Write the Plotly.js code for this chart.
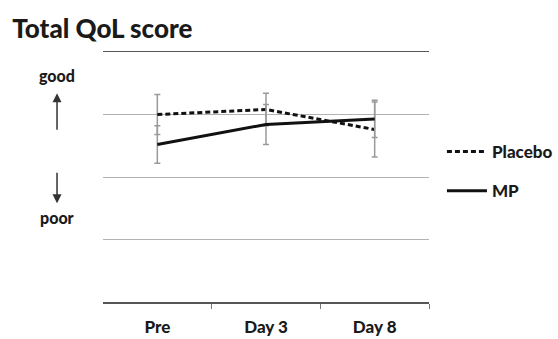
<!DOCTYPE html>
<html>
<head>
<meta charset="utf-8">
<script src="https://cdn.plot.ly/plotly-3.0.1.min.js"></script>
<style>html,body{margin:0;padding:0;background:#fff;}#chart{width:558px;height:339px;}</style>
</head>
<body>
<div id="chart"></div>
<script>
const categories = ["Pre", "Day 3", "Day 8"];
const placebo = [3.00, 3.08, 2.76];
const placeboErr = [0.32, 0.26, 0.44];
const mp = [2.52, 2.84, 2.93];
const mpErr = [0.30, 0.32, 0.30];
const gridTicks = [1, 2, 3];

const xIdx = categories.map((c, i) => i);
const FONT = "Lato, 'Open Sans', sans-serif";

const errStyle = {type: 'data', visible: true, color: '#9a9a9a', thickness: 1.5, width: 3};

const traces = [
  {
    x: xIdx, y: placebo, name: 'Placebo', type: 'scatter', mode: 'lines',
    line: {color: '#111', width: 3, dash: '5px,3px'},
    error_y: Object.assign({array: placeboErr}, errStyle),
    legendgroup: 'a'
  },
  {
    x: xIdx, y: mp, name: 'MP', type: 'scatter', mode: 'lines',
    line: {color: '#111', width: 3},
    error_y: Object.assign({array: mpErr}, errStyle),
    legendgroup: 'b'
  }
];

const layout = {
  width: 558, height: 339,
  margin: {l: 103, r: 129, t: 52, b: 37, pad: 0, autoexpand: false},
  paper_bgcolor: '#fff', plot_bgcolor: '#fff',
  showlegend: true,
  title: {text: 'Total QoL score', x: 0.022, xanchor: 'left', y: 0.915, yanchor: 'middle',
          font: {family: FONT, size: 26, color: '#1a1a1a', weight: 900}},
  xaxis: {
    type: 'linear', range: [-0.5, 2.5], fixedrange: true,
    tickvals: xIdx, ticktext: categories,
    ticks: '', showgrid: false, zeroline: false, ticklabelstandoff: 9,
    showline: true, linecolor: '#555', linewidth: 1.5, mirror: true,
    tickfont: {family: FONT, size: 17, color: '#1a1a1a', weight: 900},
    minor: {tickvals: [0.5, 1.5, 2.5], ticks: 'outside', ticklen: 5, tickcolor: '#777', tickwidth: 1, showgrid: false}
  },
  yaxis: {
    range: [0, 4], fixedrange: true,
    tickvals: gridTicks, showticklabels: false, ticks: '',
    showgrid: true, gridcolor: '#b3b3b3', gridwidth: 1,
    zeroline: false, showline: false
  },
  legend: {
    xref: 'container', x: 0.792, xanchor: 'left', y: 0.672, yanchor: 'top',
    font: {family: FONT, size: 17, color: '#1a1a1a', weight: 900},
    itemwidth: 40,
    tracegroupgap: 14, bgcolor: 'rgba(0,0,0,0)', traceorder: 'grouped'
  },
  annotations: [
    {xref: 'paper', yref: 'y', x: -0.141, y: 3.63, text: 'good', showarrow: false,
     font: {family: FONT, size: 16, color: '#1a1a1a', weight: 900}, xanchor: 'center', yanchor: 'middle'},
    {xref: 'paper', yref: 'y', x: -0.141, y: 1.35, text: 'poor', showarrow: false,
     font: {family: FONT, size: 16, color: '#1a1a1a', weight: 900}, xanchor: 'center', yanchor: 'middle'},
    {xref: 'paper', yref: 'y', x: -0.141, y: 3.34, ax: 0, ay: 38,
     text: '', showarrow: true, arrowhead: 2, arrowsize: 1.2, arrowwidth: 1.5, arrowcolor: '#333'},
    {xref: 'paper', yref: 'y', x: -0.141, y: 1.58, ax: 0, ay: -32,
     text: '', showarrow: true, arrowhead: 2, arrowsize: 1.2, arrowwidth: 1.5, arrowcolor: '#333'}
  ]
};

Plotly.newPlot('chart', traces, layout, {displayModeBar: false, staticPlot: true});
</script>
</body>
</html>
